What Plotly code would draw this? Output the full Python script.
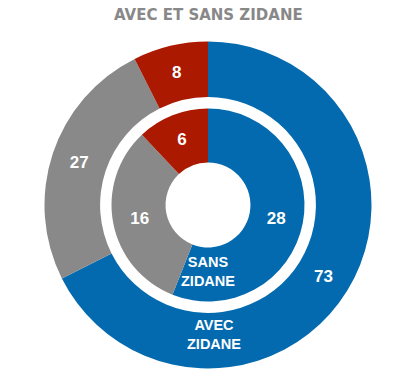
import plotly.graph_objects as go

categories = ["Victoires", "Nuls", "Défaites"]
avec_zidane = [73, 27, 8]
sans_zidane = [28, 16, 6]
colors = ["#036AB0", "#898989", "#AA1900"]
title_text = "AVEC ET SANS ZIDANE"
label_avec = "AVEC<br>ZIDANE"
label_sans = "SANS<br>ZIDANE"

W, H = 400, 379
cx, cy = 208, 205  # pixel center (from top)

def dom(r):
    return dict(x=[(cx - r) / W, (cx + r) / W],
                y=[(H - cy - r) / H, (H - cy + r) / H])

FAM = "Liberation Sans, Arial, sans-serif"
font_num = dict(family=FAM, size=17, color="white")

fig = go.Figure()
fig.add_trace(go.Pie(
    labels=categories, values=avec_zidane, sort=False, direction="clockwise",
    rotation=0, hole=0.66, domain=dom(163.5),
    marker=dict(colors=colors, line=dict(width=0)),
    textinfo="value", textposition="inside", insidetextorientation="horizontal",
    texttemplate="<b>%{value}</b>", textfont=font_num, hoverinfo="label+value",
    showlegend=False,
))
fig.add_trace(go.Pie(
    labels=categories, values=sans_zidane, sort=False, direction="clockwise",
    rotation=0, hole=0.44, domain=dom(96.5),
    marker=dict(colors=colors, line=dict(width=0)),
    textinfo="value", textposition="inside", insidetextorientation="horizontal",
    texttemplate="<b>%{value}</b>", textfont=font_num, hoverinfo="label+value",
    showlegend=False,
))

def ann(text, px, py, size, color, family=FAM):
    return dict(text="<b>" + text + "</b>", x=px / W, y=(H - py) / H,
                xref="paper", yref="paper", showarrow=False,
                xanchor="center", yanchor="middle",
                font=dict(family=family, size=size, color=color))

fig.update_layout(
    width=W, height=H,
    margin=dict(l=0, r=0, t=0, b=0),
    paper_bgcolor="white", plot_bgcolor="white",
    annotations=[
        ann(title_text, 208, 15.5, 15, "#888888", "DejaVu Sans, sans-serif"),
        ann(label_avec, 214, 334.5, 14.5, "white"),
        ann(label_sans, 208, 271.5, 14.5, "white"),
    ],
)

fig.write_html("out.html", config={"displayModeBar": False},
               post_script="document.body.style.margin='0px';")
